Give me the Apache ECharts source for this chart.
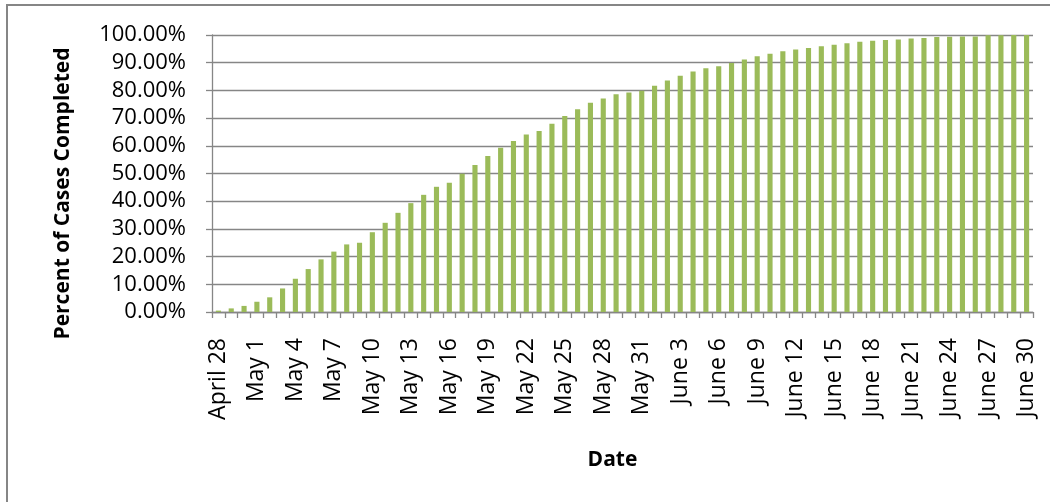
<!DOCTYPE html>
<html>
<head>
<meta charset="utf-8">
<style>
  html, body { margin: 0; padding: 0; background: #ffffff; }
  #chart { width: 1050px; height: 502px; }
</style>
<script src="https://cdn.jsdelivr.net/npm/echarts@6/dist/echarts.min.js"></script>
</head>
<body>
<div id="chart"></div>
<script>
// Daily calendar: April 28 through June 30
const months = ['April', 'May', 'June'];
const firstDay = [28, 1, 1];
const lastDay = [30, 31, 30];

const dates = [];
months.forEach((m, k) => {
  for (let d = firstDay[k]; d <= lastDay[k]; d++) dates.push(m + ' ' + d);
});

// Cumulative percent of cases completed, one value per day
const percentCompleted = [
  0.5, 1.3, 2.2, 3.7, 5.3, 8.5, 12.0, 15.5, 19.0, 21.8,
  24.4, 25.0, 28.8, 32.2, 35.8, 39.3, 42.3, 45.2, 46.7, 49.9,
  53.1, 56.3, 59.3, 61.7, 64.1, 65.3, 68.0, 70.8, 73.2, 75.5,
  77.1, 78.6, 79.2, 79.9, 81.7, 83.6, 85.3, 86.8, 88.0, 88.7,
  89.9, 91.2, 92.3, 93.2, 94.1, 94.8, 95.3, 95.9, 96.5, 97.0,
  97.6, 97.9, 98.2, 98.4, 98.7, 98.9, 99.3, 99.4, 99.5, 99.5,
  99.9, 99.9, 100.0, 100.0
];

const yTicks = [0, 10, 20, 30, 40, 50, 60, 70, 80, 90, 100];

const axisGrey = '#868686';
const font = 'Open Sans';

const chart = echarts.init(document.getElementById('chart'), null, { renderer: 'canvas' });

chart.setOption({
  backgroundColor: '#ffffff',
  animation: false,
  graphic: [{
    type: 'rect',
    shape: { x: 7, y: 5, width: 1200, height: 700 },
    style: { fill: 'none', stroke: axisGrey, lineWidth: 2 },
    silent: true
  }],
  grid: { left: 212, right: 17, top: 35, bottom: 190, containLabel: false },
  xAxis: {
    type: 'category',
    data: dates,
    name: 'Date',
    nameLocation: 'middle',
    nameGap: 138,
    nameTextStyle: { fontFamily: font, fontWeight: 'bold', fontSize: 21, color: '#000', padding: [0, 20, 0, 0] },
    axisLine: { show: true, lineStyle: { color: axisGrey, width: 1.3 } },
    axisTick: { show: true, interval: 0, length: 6, alignWithLabel: false, lineStyle: { color: axisGrey, width: 1.3 } },
    axisLabel: {
      interval: 2,
      rotate: 90,
      margin: 26,
      fontFamily: font,
      fontSize: 23,
      color: '#000'
    },
    splitLine: { show: false }
  },
  yAxis: {
    type: 'value',
    min: yTicks[0],
    max: yTicks[yTicks.length - 1],
    interval: yTicks[1] - yTicks[0],
    name: 'Percent of Cases Completed',
    nameLocation: 'middle',
    nameGap: 138,
    nameRotate: 90,
    nameTextStyle: { fontFamily: font, fontWeight: 'bold', fontSize: 21, color: '#000', padding: [0, 40, 0, 0] },
    axisLine: { show: true, lineStyle: { color: axisGrey, width: 1.3 } },
    axisTick: { show: true, length: 6, lineStyle: { color: axisGrey, width: 1.3 } },
    axisLabel: {
      margin: 26,
      fontFamily: font,
      fontSize: 22,
      color: '#000',
      formatter: v => v.toFixed(2) + '%'
    },
    splitLine: { show: true, lineStyle: { color: axisGrey, width: 1.3 } }
  },
  series: [{
    type: 'bar',
    data: percentCompleted,
    barWidth: '40%',
    itemStyle: { color: '#9BBB59' }
  }]
});
</script>
</body>
</html>
